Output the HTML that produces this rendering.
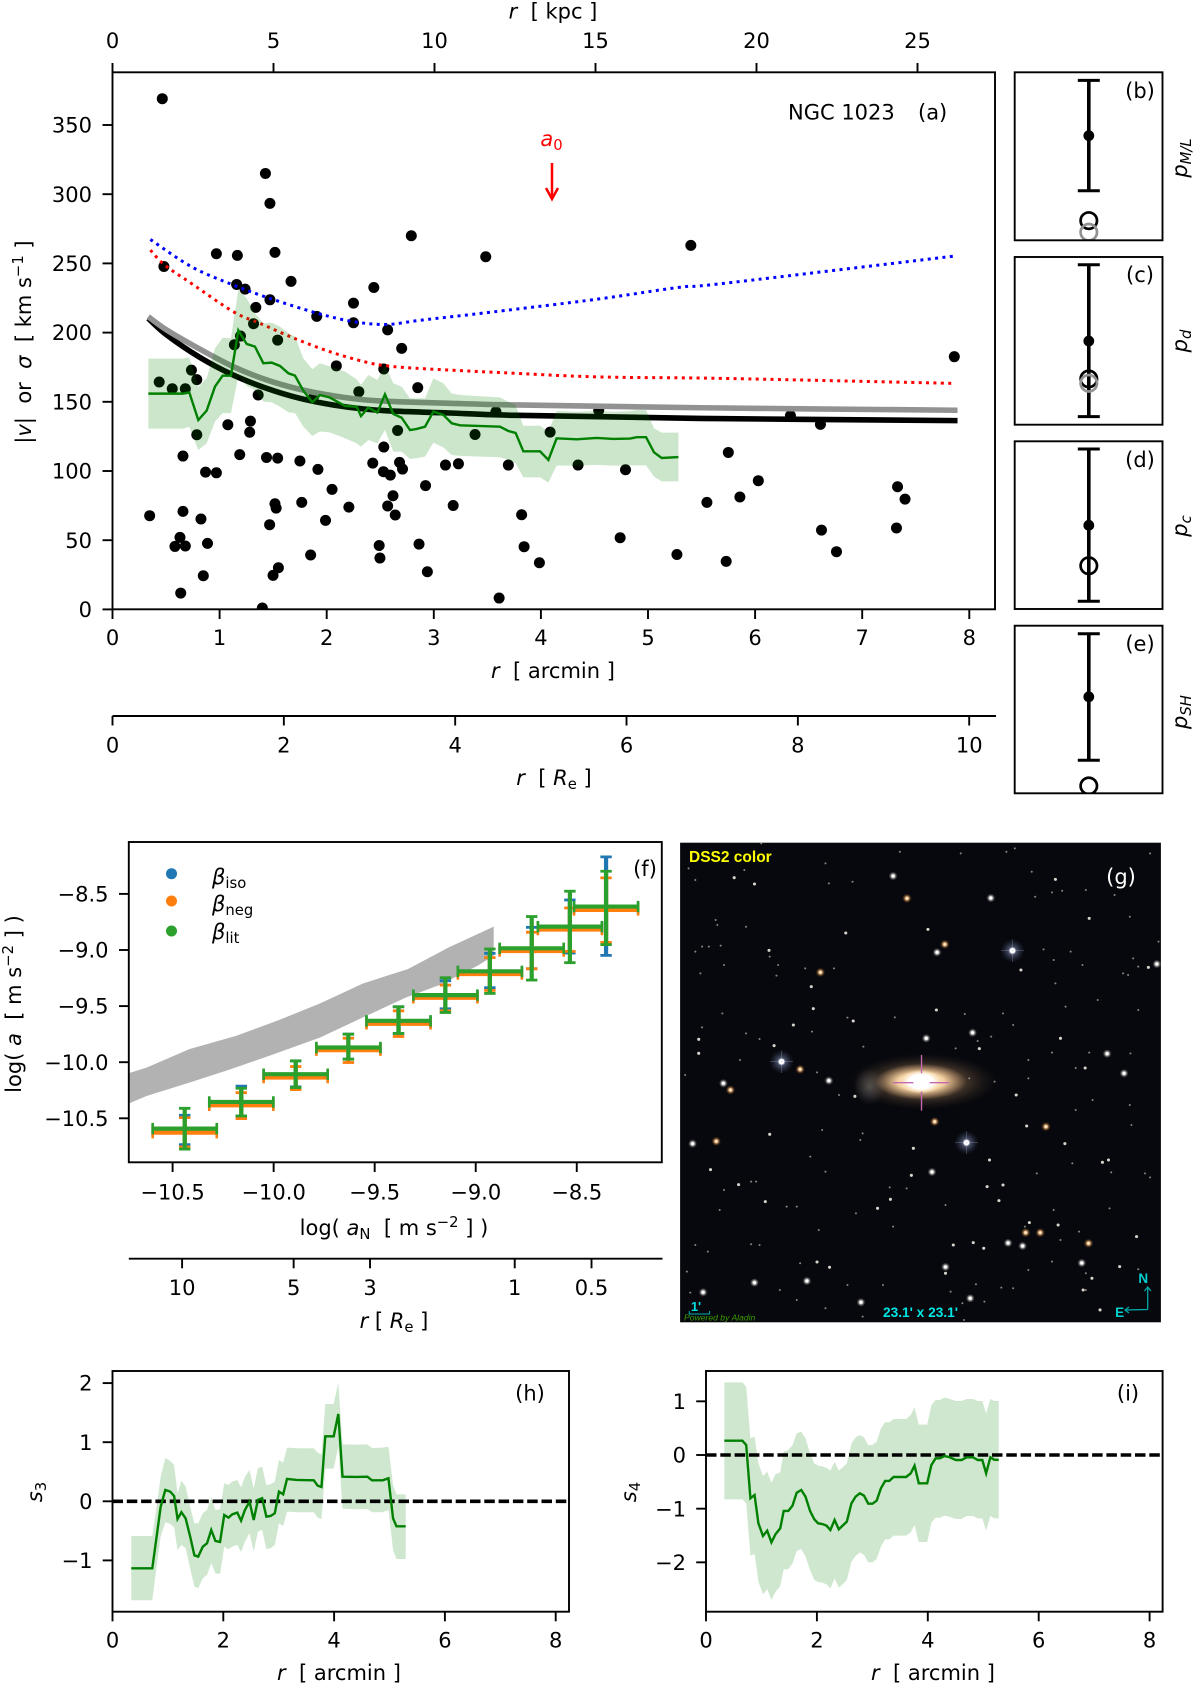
<!DOCTYPE html>
<html lang="en">
<head>
<meta charset="utf-8">
<title>NGC 1023 kinematics figure</title>
<style>
html,body{margin:0;padding:0;background:#fff;}
svg{display:block;}
text{font-family:"DejaVu Sans","Liberation Sans",sans-serif;font-size:21px;fill:#000;}
.it{font-style:italic;}
.sm{font-size:14.8px;}
.frame{fill:none;stroke:#000;stroke-width:1.9;}
.im{font-family:"Liberation Sans",sans-serif;font-weight:bold;}
</style>
</head>
<body>
<svg id="fig" xmlns="http://www.w3.org/2000/svg" width="1200" height="1692" viewBox="0 0 1200 1692">
<defs>
<clipPath id="clipA"><rect x="112.5" y="72.3" width="882.5" height="537"/></clipPath>
<clipPath id="clipB"><rect x="1014.7" y="72.3" width="147.8" height="168"/></clipPath>
<clipPath id="clipC"><rect x="1014.7" y="257" width="147.8" height="167.7"/></clipPath>
<clipPath id="clipD"><rect x="1014.7" y="441.3" width="147.8" height="167.7"/></clipPath>
<clipPath id="clipE"><rect x="1014.7" y="625.7" width="147.8" height="167.6"/></clipPath>
<clipPath id="clipF"><rect x="128.8" y="842" width="533" height="320.3"/></clipPath>
<clipPath id="clipH"><rect x="112.5" y="1371" width="456.5" height="240.7"/></clipPath>
<clipPath id="clipI"><rect x="706" y="1371" width="456.6" height="240.7"/></clipPath>
<radialGradient id="starW"><stop offset="0" stop-color="#fff"/><stop offset=".3" stop-color="#fff"/><stop offset=".55" stop-color="#e8e4dc" stop-opacity=".5"/><stop offset="1" stop-color="#c8c8d8" stop-opacity="0"/></radialGradient>
<radialGradient id="starO"><stop offset="0" stop-color="#fff4e0"/><stop offset=".28" stop-color="#ffd8a8"/><stop offset=".55" stop-color="#c88a50" stop-opacity=".6"/><stop offset="1" stop-color="#805020" stop-opacity="0"/></radialGradient>
<radialGradient id="starB"><stop offset="0" stop-color="#fff"/><stop offset=".2" stop-color="#fff"/><stop offset=".32" stop-color="#8a98c0" stop-opacity=".5"/><stop offset="1" stop-color="#3a4670" stop-opacity="0"/></radialGradient>
<radialGradient id="galOuter"><stop offset="0" stop-color="#c89a70" stop-opacity=".9"/><stop offset=".55" stop-color="#6e5640" stop-opacity=".6"/><stop offset="1" stop-color="#30261e" stop-opacity="0"/></radialGradient>
<radialGradient id="galMid"><stop offset="0" stop-color="#fff6e6"/><stop offset=".5" stop-color="#f6d4a4"/><stop offset="1" stop-color="#c89a6c" stop-opacity="0"/></radialGradient>
<radialGradient id="galCore"><stop offset="0" stop-color="#fff"/><stop offset=".6" stop-color="#fff"/><stop offset="1" stop-color="#ffeccc" stop-opacity="0"/></radialGradient>
<radialGradient id="galPatch"><stop offset="0" stop-color="#8e8a88" stop-opacity=".45"/><stop offset="1" stop-color="#8e8a88" stop-opacity="0"/></radialGradient>
</defs>

<!-- Panel a static labels -->
<g id="panelA"></g>
<rect class="frame" x="112.5" y="72.3" width="882.5" height="537"/>
<line x1="112.5" y1="716" x2="996" y2="716" stroke="#000" stroke-width="1.9"/>
<text x="553" y="18.5" text-anchor="middle"><tspan class="it">r</tspan>&#160;&#160;[ kpc ]</text>
<text x="553" y="678" text-anchor="middle"><tspan class="it">r</tspan>&#160;&#160;[ arcmin ]</text>
<text x="554" y="785" text-anchor="middle"><tspan class="it">r</tspan>&#160;&#160;[ <tspan class="it">R</tspan><tspan class="sm" dy="4">e</tspan><tspan dy="-4"> ]</tspan></text>
<text transform="translate(31,342) rotate(-90)" text-anchor="middle">|<tspan class="it">v</tspan>|&#160;&#160;or&#160;&#160;<tspan class="it">σ</tspan>&#160;&#160;[ km s<tspan class="sm" dy="-8">−1</tspan><tspan dy="8"> ]</tspan></text>
<text x="788" y="119.5">NGC 1023</text>
<text x="918" y="119.5">(a)</text>
<text x="551.5" y="146" text-anchor="middle" style="fill:#f00"><tspan class="it" style="fill:#f00">a</tspan><tspan class="sm" dy="4" style="fill:#f00">0</tspan></text>
<g fill="none" stroke="#f00" stroke-width="2.5">
<line x1="552" y1="163" x2="552" y2="199"/>
<path d="M546 188 L552 199 L558 188"/>
</g>

<!-- Panels b-e -->
<g id="panelsBE"></g>
<rect class="frame" x="1014.7" y="72.3" width="147.8" height="168"/>
<rect class="frame" x="1014.7" y="257" width="147.8" height="167.7"/>
<rect class="frame" x="1014.7" y="441.3" width="147.8" height="167.7"/>
<rect class="frame" x="1014.7" y="625.7" width="147.8" height="167.6"/>
<text x="1140" y="98" text-anchor="middle">(b)</text>
<text x="1140" y="282" text-anchor="middle">(c)</text>
<text x="1140" y="467" text-anchor="middle">(d)</text>
<text x="1140" y="651" text-anchor="middle">(e)</text>
<text transform="translate(1187,158) rotate(-90)" text-anchor="middle"><tspan class="it">p</tspan><tspan class="it sm" dy="4">M/L</tspan></text>
<text transform="translate(1187,341) rotate(-90)" text-anchor="middle"><tspan class="it">p</tspan><tspan class="it sm" dy="4">d</tspan></text>
<text transform="translate(1187,526) rotate(-90)" text-anchor="middle"><tspan class="it">p</tspan><tspan class="it sm" dy="4">c</tspan></text>
<text transform="translate(1187,712) rotate(-90)" text-anchor="middle"><tspan class="it">p</tspan><tspan class="it sm" dy="4">SH</tspan></text>

<!-- Panel f -->
<g id="panelF"></g>
<rect class="frame" x="128.8" y="842" width="533" height="320.3"/>
<line x1="128.8" y1="1258.7" x2="662.5" y2="1258.7" stroke="#000" stroke-width="1.9"/>
<text x="645" y="876" text-anchor="middle">(f)</text>
<g>
<circle cx="171.5" cy="873.7" r="5.5" fill="#1f77b4"/>
<text x="212" y="884"><tspan class="it">β</tspan><tspan class="sm" dy="4">iso</tspan></text>
<circle cx="171.5" cy="901" r="5.5" fill="#ff7f0e"/>
<text x="212" y="911"><tspan class="it">β</tspan><tspan class="sm" dy="4">neg</tspan></text>
<circle cx="171.5" cy="931" r="5.5" fill="#2ca02c"/>
<text x="212" y="939"><tspan class="it">β</tspan><tspan class="sm" dy="4">lit</tspan></text>
</g>
<text x="394" y="1235" text-anchor="middle">log( <tspan class="it">a</tspan><tspan class="sm" dy="4">N</tspan><tspan dy="-4">&#160;&#160;[ m s</tspan><tspan class="sm" dy="-8">−2</tspan><tspan dy="8"> ] )</tspan></text>
<text transform="translate(21,1004) rotate(-90)" text-anchor="middle">log( <tspan class="it">a</tspan>&#160;&#160;[ m s<tspan class="sm" dy="-8">−2</tspan><tspan dy="8"> ] )</tspan></text>
<text x="394" y="1328" text-anchor="middle"><tspan class="it">r</tspan> [ <tspan class="it">R</tspan><tspan class="sm" dy="4">e</tspan><tspan dy="-4"> ]</tspan></text>

<!-- Panel g: sky image -->
<g>
<rect x="680.1" y="842.7" width="480.8" height="479.6" fill="#07080d"/>
<svg id="sky" x="680.1" y="842.7" width="480.8" height="479.6" viewBox="30 38 1422 1439" preserveAspectRatio="none">
<ellipse cx="750" cy="755" rx="220" ry="84" fill="url(#galOuter)"/>
<ellipse cx="590" cy="770" rx="45" ry="55" fill="url(#galPatch)"/>
<ellipse cx="742" cy="755" rx="135" ry="54" fill="url(#galMid)"/>
<ellipse cx="742" cy="755" rx="60" ry="36" fill="url(#galCore)"/>
<g id="stars"></g>
<g stroke="#c468b4" stroke-width="4" fill="none">
<line x1="660" y1="758" x2="720" y2="758"/>
<line x1="768" y1="758" x2="826" y2="758"/>
<line x1="744" y1="675" x2="744" y2="730"/>
<line x1="744" y1="785" x2="744" y2="842"/>
</g>
</svg>
<text class="im" x="689" y="862" style="fill:#ffff00;font-size:15.5px">DSS2 color</text>
<text x="1121" y="884" text-anchor="middle" style="fill:#fff">(g)</text>
<text class="im" x="920.5" y="1317" text-anchor="middle" style="fill:#00e5e5;font-size:13.7px">23.1' x 23.1'</text>
<text class="im" x="1143.3" y="1283" text-anchor="middle" style="fill:#00d0d0;font-size:13.5px">N</text>
<text class="im" x="1119.6" y="1317" text-anchor="middle" style="fill:#00d0d0;font-size:13.5px">E</text>
<g fill="none" stroke="#00a8a8" stroke-width="1.3">
<path d="M1147.7 1309.5 L1147.7 1287 M1144.5 1291 L1147.7 1287 L1150.9 1291"/>
<path d="M1147.7 1309.5 L1125 1310 M1129 1307 L1125 1310 L1129 1313"/>
</g>
<text class="im" x="696" y="1311" text-anchor="middle" style="fill:#00e0e0;font-size:13px">1'</text>
<path d="M689.3 1311 V1314 H709.6 V1311" fill="none" stroke="#00b0b0" stroke-width="1"/>
<text x="684" y="1320.5" style="fill:#3a9c00;font-size:8.6px;font-style:italic;font-family:'Liberation Sans',sans-serif">Powered by Aladin</text>
</g>

<!-- Panel h -->
<g id="panelH"></g>
<rect class="frame" x="112.5" y="1371" width="456.5" height="240.7"/>
<text x="530" y="1400.5" text-anchor="middle">(h)</text>
<text transform="translate(42,1492) rotate(-90)" text-anchor="middle"><tspan class="it">s</tspan><tspan class="sm" dy="4">3</tspan></text>
<text x="339" y="1680" text-anchor="middle"><tspan class="it">r</tspan>&#160;&#160;[ arcmin ]</text>

<!-- Panel i -->
<g id="panelI"></g>
<rect class="frame" x="706" y="1371" width="456.6" height="240.7"/>
<text x="1128" y="1400.5" text-anchor="middle">(i)</text>
<text transform="translate(636,1492) rotate(-90)" text-anchor="middle"><tspan class="it">s</tspan><tspan class="sm" dy="4">4</tspan></text>
<text x="933" y="1680" text-anchor="middle"><tspan class="it">r</tspan>&#160;&#160;[ arcmin ]</text>
</svg>

<script>
/* ---------- panel a data ---------- */
const arcminTicks=[0,1,2,3,4,5,6,7,8];
const velocityTicks=[0,50,100,150,200,250,300,350];
const kpcTicks=[0,5,10,15,20,25];
const reTicks=[0,2,4,6,8,10];
const scatterR=[.465,1.428,1.47,2.79,.97,1.166,1.517,3.485,.48,1.667,1.159,1.238,2.44,1.47,1.338,2.25,1.317,1.907,2.25,2.569,1.138,1.195,1.542,2.70,2.09,2.533,.737,.787,.436,.558,.68,1.36,2.30,2.85,1.882,3.58,4.54,6.33,6.61,5.4,7.86,
1.077,1.288,1.281,.787,2.662,3.385,4.086,.658,1.188,1.438,1.542,1.75,1.918,2.533,2.43,2.68,2.708,2.53,2.594,.869,.97,3.109,3.23,3.696,4.347,
4.79,5.75,6.03,5.858,5.55,7.33,7.4,6.62,7.32,6.76,4.74,5.27,5.73,
2.05,2.923,2.619,1.517,1.528,1.767,2.207,2.569,3.181,.347,.658,.826,1.989,2.64,3.82,1.467,.63,.583,.68,.887,2.49,2.862,3.843,1.85,2.497,3.986,1.549,1.499,.848,2.94,.637,3.61,1.399];
const scatterV=[369,315,293.4,270,257,255.8,258,254.8,247.8,237,234.8,231.4,232.6,223.7,218.2,221.3,206.4,211.7,207.1,202,191.2,197.5,194.6,188.6,176,173.7,172.9,166,164.3,159.4,159.4,154.9,157.3,160.2,154.4,142.8,143.8,140,133.7,263,182.6,
133.4,136,128,126.2,129.3,126.4,128.1,110.8,111.8,109.8,109.3,107.2,101.2,117.3,105.7,106.2,101.4,99.5,97,99.2,98.7,104.3,105.2,104.3,104.3,
100.9,113.4,93,81.2,77.3,88.6,79.7,57.3,58.8,41.7,51.8,39.7,34.7,
86.7,89.4,82.1,76.3,73.2,77.3,73.9,74.7,75.1,67.7,70.8,65.3,64.3,68.2,68.4,61.2,52,45.5,45.8,47.7,46.2,47.2,45.3,39.3,37.1,33.7,30.1,24.6,24.3,27.2,11.8,8.2,1];
const blackR=[.334,.506,.817,1.128,1.44,1.75,2.06,2.37,2.68,3.15,3.77,5.49,7.89];
const blackV=[210.3,198.3,182,169.3,159.7,152.5,147.7,144.6,143.1,141.9,140.2,138,136.4];
const greyV=[211.5,201.9,188,175.4,165.8,159,154.4,151.3,150,148.9,147.7,145.7,143.9];
const blueR=[.354,.737,1.13,1.47,1.918,2.25,2.56,2.884,3.56,4.53,5.29,5.70,7.86];
const blueV=[267.3,247.6,234.3,224.7,213.9,207.9,205.9,209,215,224.2,232.7,235.5,255.3];
const redR=[.354,.487,.737,1.13,1.38,1.70,2.03,2.35,2.56,2.884,3.6,4.53,5.7,7.86];
const redV=[259.6,248.8,235.5,215,206.6,195.8,186.2,179,176,174,171.2,168,166.9,163.3];
const sigmaR=[.335,.655,.717,.801,.879,.957,1.028,1.106,1.175,1.253,1.33,1.408,1.486,1.564,1.642,1.704,1.782,1.866,1.937,2.031,2.171,2.28,2.32,2.389,2.473,2.544,2.622,2.7,2.778,2.84,2.918,2.996,3.089,3.167,3.245,3.618,3.696,3.764,3.836,3.992,4.07,4.147,4.334,4.521,4.677,4.832,4.894,4.982,5.056,5.128,5.284];
const sigmaV=[155.9,155.9,156.8,136.8,143.6,161,168.9,168.9,201.6,191.8,189.9,177.9,178.3,175.9,170.6,168.9,158,149.6,154.9,153,147,146.5,139.7,145.8,142.2,155.4,141.2,138.5,129.6,130.4,132,142.9,140.5,134.5,133,132,128.9,127.5,114.2,114.2,108,123.6,122.9,123.9,123.2,123.4,124.4,124.4,113.5,109.4,110.1];
const sigmaUp=[181.2,181.2,182,160.9,166.9,188.6,196.3,195.8,230.8,224.8,214,206.7,207.2,204.3,199.5,197.1,181.4,173.6,177.9,175.5,171.9,166.2,162.2,169.4,165.8,176.6,163.4,161,152.5,152.5,152.5,166.9,163.4,156,154.9,153.2,150,147.6,132.7,132.7,128.4,143.3,142.8,143.3,142.8,143.3,144,144,130.8,127.7,127.7];
const sigmaLo=[130.6,130.6,132,115.2,120,135.7,141.8,141.8,168.6,161.6,158.5,150.1,149.6,146.5,142.4,141.8,132.1,125.3,128.5,127.8,123.7,120,117.6,122.4,120,129.7,114,114,108.7,109.2,110.4,120.5,117.1,111.6,110.9,109.9,108,105.6,95.4,95.4,91.6,103.9,103.9,104.4,103.9,104.1,104.1,104.1,95.9,92.5,92.5];

/* ---------- panels b-e data (fraction of panel height) ---------- */
const paramUpper=[.952,.954,.954,.952];
const paramLower=[.295,.048,.046,.197];
const paramBest=[.623,.499,.499,.576];
const paramOpen=[.117,.273,.258,.044];
const paramGrey=[.048,.247,null,null];

/* ---------- panel f data ---------- */
const fXTicks=[-10.5,-10,-9.5,-9,-8.5];
const fYTicks=[-8.5,-9,-9.5,-10,-10.5];
const radiusTicks=["10","5","3","1","0.5"];
const radiusTickAccel=[-10.453,-9.901,-9.523,-8.807,-8.427];
const logAN=[-10.44,-10.16,-9.891,-9.63,-9.382,-9.15,-8.93,-8.723,-8.534,-8.355];
const logANerr=[.1585,.1585,.1585,.1585,.1585,.1585,.1585,.1585,.1585,.1585];
const isoA=[-10.607,-10.366,-10.119,-9.878,-9.643,-9.411,-9.199,-8.994,-8.8,-8.625];
const isoHi=[-10.473,-10.214,-9.988,-9.75,-9.506,-9.274,-9.03,-8.798,-8.554,-8.17];
const isoLo=[-10.735,-10.482,-10.22,-9.973,-9.744,-9.524,-9.336,-9.167,-9.027,-9.048];
const negA=[-10.628,-10.384,-10.137,-9.893,-9.658,-9.426,-9.214,-9.009,-8.818,-8.643];
const negHi=[-10.494,-10.271,-10.039,-9.786,-9.542,-9.313,-9.068,-8.842,-8.625,-8.357];
const negLo=[-10.756,-10.503,-10.244,-10.003,-9.771,-9.542,-9.36,-9.167,-9.012,-8.932];
const litA=[-10.592,-10.354,-10.107,-9.869,-9.631,-9.402,-9.19,-8.985,-8.792,-8.613];
const litHi=[-10.411,-10.232,-9.988,-9.75,-9.506,-9.247,-8.991,-8.702,-8.476,-8.298];
const litLo=[-10.774,-10.479,-10.226,-9.973,-9.744,-9.557,-9.387,-9.268,-9.113,-8.952];
const bandUpX=[-10.718,-10.629,-10.417,-10.186,-9.983,-9.77,-9.558,-9.336,-9.132,-8.911];
const bandUpY=[-10.098,-10.048,-9.884,-9.765,-9.631,-9.476,-9.298,-9.17,-8.976,-8.792];
const bandLoX=[-8.911,-8.991,-9.168,-9.345,-9.558,-9.77,-10,-10.213,-10.417,-10.629,-10.718];
const bandLoY=[-9.051,-9.14,-9.304,-9.423,-9.601,-9.78,-9.929,-10.063,-10.182,-10.301,-10.369];

/* ---------- panel h data ---------- */
const hXTicks=[0,2,4,6,8];
const hYTicks=[-1,0,1,2];
const s3R=[.339,.718,.788,.87,.953,1.043,1.112,1.174,1.244,1.32,1.402,1.478,1.547,1.63,1.706,1.782,1.858,1.941,2.017,2.093,2.162,2.252,2.321,2.39,2.473,2.549,2.625,2.701,2.777,2.853,2.929,3.005,3.081,3.15,3.323,3.634,3.703,3.772,3.841,3.993,4.076,4.152,4.394,4.601,4.684,4.877,4.981,5.064,5.126,5.292];
const s3V=[-1.134,-1.134,-.654,-.09,.192,.164,.09,-.299,-.186,-.288,-.598,-.914,-.936,-.767,-.711,-.485,-.671,-.688,-.231,-.276,-.22,-.192,-.327,-.147,-.006,-.316,.023,.051,-.259,-.248,-.203,.164,.118,.378,.361,.355,.265,.243,1.1,1.1,1.478,.417,.412,.417,.355,.355,.389,-.288,-.423,-.423];
const s3Up=[-.587,-.587,-.147,.417,.733,.682,.615,.135,.35,.248,-.09,-.372,-.372,-.203,-.147,.079,-.147,-.135,.305,.276,.333,.361,.237,.417,.53,.22,.558,.587,.276,.288,.333,.699,.654,.908,.897,.897,.823,.795,1.647,1.647,2.008,.964,.959,.964,.902,.908,.925,.276,.118,.118];
const s3Lo=[-1.675,-1.675,-1.162,-.598,-.355,-.384,-.44,-.823,-.739,-.795,-1.134,-1.444,-1.472,-1.303,-1.246,-1.049,-1.218,-1.23,-.767,-.812,-.767,-.739,-.863,-.682,-.541,-.852,-.513,-.485,-.807,-.795,-.739,-.372,-.417,-.175,-.186,-.186,-.276,-.299,.553,.553,.925,-.124,-.135,-.13,-.186,-.186,-.147,-.823,-.976,-.976];

/* ---------- panel i data ---------- */
const iXTicks=[0,2,4,6,8];
const iYTicks=[-2,-1,0,1];
const s4R=[.331,.656,.725,.801,.876,.945,1.028,1.104,1.18,1.256,1.339,1.401,1.484,1.56,1.636,1.718,1.794,1.877,1.953,2.022,2.098,2.174,2.243,2.319,2.395,2.464,2.54,2.623,2.698,2.774,2.85,2.926,3.002,3.078,3.154,3.23,3.306,3.382,3.609,3.692,3.761,3.837,3.989,4.065,4.141,4.217,4.3,4.382,4.507,4.61,4.7,4.817,4.9,4.983,5.052,5.128,5.197,5.279];
const s4V=[.267,.267,.186,-.807,-.745,-1.273,-1.509,-1.41,-1.627,-1.472,-1.366,-1.043,-1.043,-.944,-.702,-.652,-.776,-1.043,-1.199,-1.273,-1.286,-1.317,-1.398,-1.211,-1.385,-1.317,-1.242,-.901,-.776,-.714,-.758,-.907,-.907,-.851,-.621,-.484,-.484,-.41,-.41,-.342,-.199,-.528,-.528,-.186,-.062,-.062,-.019,-.037,-.093,-.093,-.043,-.043,-.093,-.093,-.342,-.043,-.087,-.093];
const s4Up=[1.354,1.354,1.273,.311,.342,-.155,-.391,-.311,-.516,-.354,-.323,.062,.093,.186,.404,.435,.311,.031,-.155,-.199,-.211,-.242,-.292,-.124,-.292,-.23,-.155,.217,.329,.373,.329,.186,.186,.248,.497,.609,.609,.671,.671,.745,.888,.565,.565,.932,1.025,1.025,1.068,1.05,1.006,1.006,1.043,1.043,1.006,1.006,.776,1.043,1.006,1.006];
const s4Lo=[-.826,-.826,-.901,-1.876,-1.845,-2.36,-2.596,-2.503,-2.702,-2.547,-2.441,-2.13,-2.13,-2.019,-1.789,-1.752,-1.894,-2.143,-2.329,-2.366,-2.379,-2.41,-2.484,-2.298,-2.472,-2.41,-2.329,-1.988,-1.882,-1.814,-1.863,-2,-2,-1.938,-1.708,-1.571,-1.571,-1.503,-1.503,-1.441,-1.304,-1.621,-1.621,-1.261,-1.168,-1.168,-1.13,-1.149,-1.193,-1.193,-1.137,-1.137,-1.18,-1.18,-1.416,-1.137,-1.18,-1.18];

/* ---------- sky image star catalogue (image coordinates) ---------- */
const giantStars=[[1013,362],[877,938],[330,695]];
const brightStars=[[158,760],[949,204],[1293,671],[1343,730],[67,941],[775,1026],[815,1311],[1000,1239],[1043,1248],[660,138],[758,625],[895,608],[1440,402],[470,752],[790,367],[250,1358],[98,1387],[405,1353],[565,1417],[888,1405],[1218,1299]];
const orangeStars=[[783,875],[445,427],[137,934],[1238,1240],[1112,890],[385,718],[813,343],[701,205],[179,780],[1052,1208],[1095,1208]];
const smallStars=[[1155,625],[915,656],[1228,714],[520,309],[418,470],[424,536],[365,585],[542,573],[788,540],[547,799],[1024,795],[85,628],[85,670],[308,647],[293,361],[250,162],[190,143],[1140,148],[1240,265],[763,298],[1038,420],[1415,412],[295,913],[203,1064],[1148,1185],[614,1135],[652,1108],[282,1115],[120,1019],[720,955],[714,1036],[945,990],[1297,990],[1279,997],[1168,941],[1055,888],[938,1070],[985,1065],[973,1112],[435,1296],[472,1312],[815,1330],[838,1245],[897,1238],[928,1255],[1272,1440],[1330,1310],[1248,1345],[1063,1178],[1222,1380],[1380,1220],
[55,115],[220,120],[75,150],[140,285],[135,270],[225,290],[95,350],[75,365],[150,347],[295,380],[320,405],[160,405],[90,430],[400,415],[485,415],[315,437],[115,350],[155,550],[95,592],[225,610],[265,627],[207,690],[435,727],[500,795],[525,563],[420,605],[572,650],[665,562],[872,552],[950,620],[910,633],[845,655],[885,745],[960,755],[1060,745],[1130,668],[1200,714],[1240,668],[1362,670],[1385,540],[1140,460],[1185,365],[1105,358],[1135,390],[1220,405],[1340,430],[1355,435],[1370,385],[1385,410],[1020,55],[1080,200],[1130,187],[1160,182],[1070,125],[1230,180],[1315,195],[1360,260],[985,550],[1015,585],[1170,530],[1265,510],[1085,1030],[1190,1000],[1305,1027],[1365,885],[1405,1030],[1420,1042],[1200,840],[1250,810],[1360,825],[1060,690],[450,900],[570,910],[563,930],[415,980],[460,1025],[240,1055],[255,1055],[160,1080],[375,1130],[345,1130],[147,1140],[440,1200],[550,1150],[660,1190],[700,1075],[650,1072],[815,1125],[1135,1140],[1300,1135],[1210,1205],[1050,1190],[75,1245],[112,1265],[240,1243],[265,1245],[385,1300],[50,1325],[60,1388],[325,1380],[525,1365],[630,1365],[905,1363],[980,1373],[1015,1375],[1230,1330],[1385,1318],[1155,1230],[460,1435],[375,1410],[830,1385],[865,1420],[930,1415],[1060,1320],[1130,1295],[570,1460],[870,1470],[1230,1380],[270,40],[460,100],[540,155],[470,160],[680,65],[860,70],[995,65],[1420,70],[1445,335],[45,735]];

/* ---------- axis functions ---------- */
const xArc=v=>112.5+107.1*v;
const yVel=v=>609.4-1.384*v;
const xKpc=v=>112.5+32.2*v;
const xRe=v=>112.5+85.67*v;
const xF=v=>172.6+(v+10.5)*202.08;
const yF=v=>1118.3-(v+10.5)*112.2;
const xH=v=>112.5+55.4*v;
const yH=v=>1501.3-59.1*v;
const xI=v=>706+55.45*v;
const yI=v=>1455-53.67*v;
const fmtMinus=v=>String(v).replace('-','\u2212');

const NS='http://www.w3.org/2000/svg';
function mk(tag,attrs,parent){
  const e=document.createElementNS(NS,tag);
  for(const k in attrs){e.setAttribute(k,attrs[k]);}
  parent.appendChild(e);
  return e;
}
function poly(xs,ys,fx,fy){
  return xs.map((x,i)=>(i?'L':'M')+fx(x).toFixed(2)+' '+fy(ys[i]).toFixed(2)).join(' ');
}
function smooth(xs,ys,fx,fy){
  const P=xs.map((x,i)=>[fx(x),fy(ys[i])]);
  let d='M'+P[0][0].toFixed(2)+' '+P[0][1].toFixed(2);
  for(let i=0;i<P.length-1;i++){
    const p0=P[Math.max(i-1,0)],p1=P[i],p2=P[i+1],p3=P[Math.min(i+2,P.length-1)];
    const c1x=p1[0]+(p2[0]-p0[0])/6,c1y=p1[1]+(p2[1]-p0[1])/6;
    const c2x=p2[0]-(p3[0]-p1[0])/6,c2y=p2[1]-(p3[1]-p1[1])/6;
    d+=' C'+c1x.toFixed(2)+' '+c1y.toFixed(2)+' '+c2x.toFixed(2)+' '+c2y.toFixed(2)+' '+p2[0].toFixed(2)+' '+p2[1].toFixed(2);
  }
  return d;
}
function band(xs,up,lo,fx,fy){
  const a=xs.map((x,i)=>fx(x).toFixed(2)+' '+fy(up[i]).toFixed(2));
  const b=xs.map((x,i)=>fx(x).toFixed(2)+' '+fy(lo[i]).toFixed(2)).reverse();
  return 'M'+a.concat(b).join(' L')+' Z';
}
const TICK={stroke:'#000','stroke-width':1.9};
function tickLine(x1,y1,x2,y2,parent){
  return mk('line',Object.assign({x1:x1,y1:y1,x2:x2,y2:y2},TICK),parent);
}
function label(x,y,anchor,str,parent){
  const t=mk('text',{x:x,y:y,'text-anchor':anchor},parent);
  t.textContent=str;
  return t;
}

/* ---------- panel a ---------- */
const gA=document.getElementById('panelA');
const clipA=mk('g',{'clip-path':'url(#clipA)'},gA);
scatterR.forEach((r,i)=>{
  const c=mk('circle',{cx:xArc(r).toFixed(2),cy:yVel(scatterV[i]).toFixed(2),r:5.5,fill:'#000'},clipA);
  
  
});
const blackCurve=mk('path',{d:smooth(blackR,blackV,xArc,yVel),fill:'none',stroke:'#000','stroke-width':5.6},clipA);


const greyCurve=mk('path',{d:smooth(blackR,greyV,xArc,yVel),fill:'none',stroke:'#929292','stroke-width':5.6},clipA);


const blueCurve=mk('path',{d:smooth(blueR,blueV,xArc,yVel),fill:'none',stroke:'#0000ff','stroke-width':3,'stroke-dasharray':'3 4.4'},clipA);


const redCurve=mk('path',{d:smooth(redR,redV,xArc,yVel),fill:'none',stroke:'#ff0000','stroke-width':3,'stroke-dasharray':'3 4.4'},clipA);


const sigmaBand=mk('path',{d:band(sigmaR,sigmaUp,sigmaLo,xArc,yVel),fill:'#008000','fill-opacity':.2},clipA);


const sigmaLine=mk('path',{d:poly(sigmaR,sigmaV,xArc,yVel),fill:'none',stroke:'#008000','stroke-width':2.4},clipA);



arcminTicks.forEach(v=>{
  const t=tickLine(xArc(v),609.4,xArc(v),619,gA);
  
  
  const l=label(xArc(v),645,'middle',String(v),gA);
  
  
});
velocityTicks.forEach(v=>{
  const t=tickLine(102.5,yVel(v),112.5,yVel(v),gA);
  
  
  const l=label(92,yVel(v)+7.6,'end',String(v),gA);
  
  
});
kpcTicks.forEach(v=>{
  const t=tickLine(xKpc(v),63,xKpc(v),72.3,gA);
  
  
  const l=label(xKpc(v),48,'middle',String(v),gA);
  
  
});
reTicks.forEach(v=>{
  const t=tickLine(xRe(v),716,xRe(v),725.5,gA);
  
  
  const l=label(xRe(v),752.5,'middle',String(v),gA);
  
  
});

/* ---------- panels b-e ---------- */
const gP=document.getElementById('panelsBE');
const panelTops=[72.3,257,441.3,625.7];
const panelHeights=[168,167.7,167.7,167.6];
const panelClips=['clipB','clipC','clipD','clipE'];
paramBest.forEach((b,i)=>{
  const yP=f=>panelTops[i]+(1-f)*panelHeights[i];
  const cx=1088.8;
  const g=mk('g',{'clip-path':'url(#'+panelClips[i]+')'},gP);
  
  
  const bar=mk('line',{x1:cx,x2:cx,y1:yP(paramUpper[i]),y2:yP(paramLower[i]),stroke:'#000','stroke-width':3.6},g);
  
  
  const capT=mk('line',{x1:cx-11,x2:cx+11,y1:yP(paramUpper[i]),y2:yP(paramUpper[i]),stroke:'#000','stroke-width':3},g);
  
  
  const capB=mk('line',{x1:cx-11,x2:cx+11,y1:yP(paramLower[i]),y2:yP(paramLower[i]),stroke:'#000','stroke-width':3},g);
  
  
  const dot=mk('circle',{cx:cx,cy:yP(b),r:5.4,fill:'#000'},g);
  
  
  const open=mk('circle',{cx:cx,cy:yP(paramOpen[i]),r:8.2,fill:'none',stroke:'#000','stroke-width':2.7},g);
  
  
  if(paramGrey[i]!==null){
    const grey=mk('circle',{cx:cx,cy:yP(paramGrey[i]),r:8.2,fill:'none',stroke:'#929292','stroke-width':2.7},g);
    
    
  }
});

/* ---------- panel f ---------- */
const gF=document.getElementById('panelF');
const clipF=mk('g',{'clip-path':'url(#clipF)'},gF);
const greyBand=mk('path',{d:'M'+bandUpX.map((x,i)=>xF(x).toFixed(2)+' '+yF(bandUpY[i]).toFixed(2)).concat(bandLoX.map((x,i)=>xF(x).toFixed(2)+' '+yF(bandLoY[i]).toFixed(2))).join(' L')+' Z',fill:'#b2b2b2'},clipF);


function errorSeries(ys,hi,lo,color,name){
  const g=mk('g',{},clipF);
  
  
  logAN.forEach((x,i)=>{
    const xc=xF(x),yc=yF(ys[i]),xa=xF(x-logANerr[i]),xb=xF(x+logANerr[i]);
    mk('line',{x1:xa,x2:xb,y1:yc,y2:yc,stroke:color,'stroke-width':4.2},g);
    mk('line',{x1:xc,x2:xc,y1:yF(hi[i]),y2:yF(lo[i]),stroke:color,'stroke-width':4.2},g);
    mk('line',{x1:xa,x2:xa,y1:yc-5.7,y2:yc+5.7,stroke:color,'stroke-width':2.6},g);
    mk('line',{x1:xb,x2:xb,y1:yc-5.7,y2:yc+5.7,stroke:color,'stroke-width':2.6},g);
    mk('line',{x1:xc-5.7,x2:xc+5.7,y1:yF(hi[i]),y2:yF(hi[i]),stroke:color,'stroke-width':2.8},g);
    mk('line',{x1:xc-5.7,x2:xc+5.7,y1:yF(lo[i]),y2:yF(lo[i]),stroke:color,'stroke-width':2.8},g);
  });
}
errorSeries(isoA,isoHi,isoLo,'#1f77b4','series-beta-iso');
errorSeries(negA,negHi,negLo,'#ff7f0e','series-beta-neg');
errorSeries(litA,litHi,litLo,'#2ca02c','series-beta-lit');
fXTicks.forEach(v=>{
  const t=tickLine(xF(v),1162.3,xF(v),1172,gF);
  
  
  const l=label(xF(v),1199.5,'middle',fmtMinus(v.toFixed(1)),gF);
  
  
});
fYTicks.forEach(v=>{
  const t=tickLine(119,yF(v),128.8,yF(v),gF);
  
  
  const l=label(108.5,yF(v)+7.6,'end',fmtMinus(v.toFixed(1)),gF);
  
  
});
radiusTicks.forEach((s,i)=>{
  const x=xF(radiusTickAccel[i]);
  const t=tickLine(x,1258.7,x,1268.3,gF);
  
  
  const l=label(x,1295.2,'middle',s,gF);
  
  
});

/* ---------- sky image ---------- */
const gS=document.getElementById('stars');
giantStars.forEach(p=>{
  const c=mk('circle',{cx:p[0],cy:p[1],r:36,fill:'url(#starB)'},gS);
  
  
  const h=mk('path',{d:'M'+(p[0]-34)+' '+p[1]+' H'+(p[0]+34)+' M'+p[0]+' '+(p[1]-34)+' V'+(p[1]+34),stroke:'#c8d0f0','stroke-width':1.4,'stroke-opacity':.5},gS);
  
  
});
brightStars.forEach(p=>{
  const c=mk('circle',{cx:p[0],cy:p[1],r:13,fill:'url(#starW)'},gS);
  
  
});
orangeStars.forEach(p=>{
  const c=mk('circle',{cx:p[0],cy:p[1],r:14,fill:'url(#starO)'},gS);
  
  
});
smallStars.forEach((p,i)=>{
  const c=mk('circle',{cx:p[0],cy:p[1],r:i<51?4.6:3,fill:i<51?'#d8d4cc':'#8a867e'},gS);
  
  
});

/* ---------- moment panels ---------- */
function momentPanel(id,clip,xs,ys,up,lo,fx,fy,xt,yt,left,right,prefix){
  const g=document.getElementById(id);
  const c=mk('g',{'clip-path':'url(#'+clip+')'},g);
  const b=mk('path',{d:band(xs,up,lo,fx,fy),fill:'#008000','fill-opacity':.19},c);
  
  
  const zero=mk('line',{x1:left,x2:right,y1:fy(0),y2:fy(0),stroke:'#000','stroke-width':3.6,'stroke-dasharray':'10.5 3.8'},c);
  
  
  const l=mk('path',{d:poly(xs,ys,fx,fy),fill:'none',stroke:'#008000','stroke-width':2.4},c);
  
  
  xt.forEach(v=>{
    const t=tickLine(fx(v),1611.7,fx(v),1621.3,g);
    
    
    const s=label(fx(v),1647.6,'middle',String(v),g);
    
    
  });
  yt.forEach(v=>{
    const t=tickLine(left-9.8,fy(v),left,fy(v),g);
    
    
    const s=label(left-20,fy(v)+7.6,'end',fmtMinus(v),g);
    
    
  });
}
momentPanel('panelH','clipH',s3R,s3V,s3Up,s3Lo,xH,yH,hXTicks,hYTicks,112.5,569,'s3');
momentPanel('panelI','clipI',s4R,s4V,s4Up,s4Lo,xI,yI,iXTicks,iYTicks,706,1162.6,'s4');
</script>
</body>
</html>
